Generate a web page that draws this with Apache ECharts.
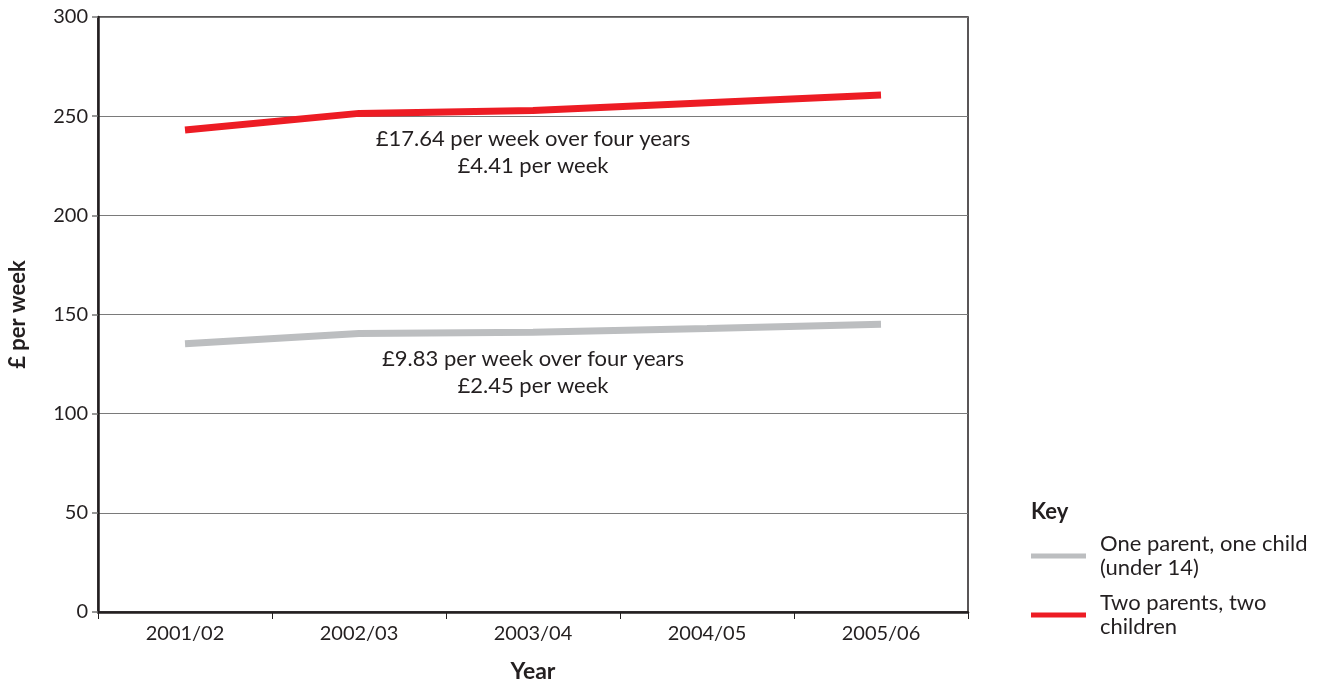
<!DOCTYPE html>
<html>
<head>
<meta charset="utf-8">
<script src="https://cdn.jsdelivr.net/npm/echarts@6/dist/echarts.min.js"></script>
<style>
html,body{margin:0;padding:0;background:#fff;}
#chart{width:1326px;height:684px;}
</style>
</head>
<body>
<div id="chart"></div>
<script>
const categories = ['2001/02', '2002/03', '2003/04', '2004/05', '2005/06'];
const oneParentValues = [135.3, 140.4, 141.0, 143.0, 145.1];
const twoParentValues = [243.0, 251.4, 252.9, 256.8, 260.7];
const seriesNames = ['One parent, one child', 'Two parents, two children'];
const legendLabels = ['One parent, one child\n(under 14)', 'Two parents, two\nchildren'];
const annotationTwo = ['£17.64 per week over four years', '£4.41 per week'];
const annotationOne = ['£9.83 per week over four years', '£2.45 per week'];
const yTicks = [0, 50, 100, 150, 200, 250, 300];

const FONT = 'Lato, "Open Sans", sans-serif';
const TXT = '#231f20';
const chart = echarts.init(document.getElementById('chart'), null, {renderer: 'canvas'});

function legendFor(i, top) {
  return {
    data: [seriesNames[i]],
    left: 1031,
    top: top,
    orient: 'vertical',
    icon: 'rect',
    itemWidth: 55,
    itemHeight: 5,
    itemGap: 0,
    padding: 0,
    selectedMode: false,
    formatter: () => legendLabels[i],
    textStyle: {
      fontFamily: FONT, fontSize: 22, color: TXT, lineHeight: 24,
      padding: [24, 0, 0, 9]
    }
  };
}

chart.setOption({
  animation: false,
  textStyle: {fontFamily: FONT},
  title: {
    text: 'Key', left: 1031, top: 501,
    textStyle: {fontFamily: FONT, fontSize: 22, fontWeight: 'bold', color: TXT},
    padding: 0
  },
  legend: [legendFor(0, 520), legendFor(1, 579)],
  grid: {
    left: 98, top: 17, right: 358, bottom: 72,
    outerBoundsMode: 'none',
    containLabel: false,
    show: true, borderColor: '#231f20', borderWidth: 1.5, backgroundColor: 'transparent'
  },
  xAxis: {
    type: 'category',
    data: categories,
    boundaryGap: true,
    name: 'Year',
    nameLocation: 'middle',
    nameGap: 48,
    nameTextStyle: {fontFamily: FONT, fontSize: 23, fontWeight: 'bold', color: TXT},
    axisLine: {show: true, lineStyle: {color: TXT, width: 2.5}},
    axisTick: {show: true, length: 7, lineStyle: {color: TXT, width: 1}, interval: 0},
    axisLabel: {fontFamily: FONT, fontSize: 20, color: TXT, margin: 12, interval: 0},
    splitLine: {show: false}
  },
  yAxis: {
    type: 'value',
    min: 0, max: 300, interval: 50,
    name: '£ per week',
    nameLocation: 'middle',
    nameRotate: 90,
    nameGap: 69,
    nameTextStyle: {fontFamily: FONT, fontSize: 22, fontWeight: 'bold', color: TXT},
    axisLine: {show: true, lineStyle: {color: TXT, width: 2.5}},
    axisTick: {show: true, length: 6, lineStyle: {color: '#777', width: 1.5}},
    axisLabel: {fontFamily: FONT, fontSize: 20, color: TXT, margin: 10,
      formatter: v => yTicks.includes(v) ? String(v) : ''},
    splitLine: {show: true, lineStyle: {color: '#7a7a7a', width: 1}}
  },
  series: [
    {
      name: seriesNames[0],
      type: 'line',
      data: oneParentValues,
      symbol: 'none',
      color: '#bcbec0',
      lineStyle: {color: '#bcbec0', width: 7},
      markPoint: {
        symbol: 'circle', symbolSize: 0,
        data: [{coord: ['2003/04', oneParentValues[2]]}],
        label: {
          show: true, position: 'inside', offset: [0, 40],
          formatter: annotationOne.join('\n'),
          fontFamily: FONT, fontSize: 22, lineHeight: 27, color: TXT, align: 'center'
        }
      }
    },
    {
      name: seriesNames[1],
      type: 'line',
      data: twoParentValues,
      symbol: 'none',
      color: '#ed1c24',
      lineStyle: {color: '#ed1c24', width: 7},
      markPoint: {
        symbol: 'circle', symbolSize: 0,
        data: [{coord: ['2003/04', twoParentValues[2]]}],
        label: {
          show: true, position: 'inside', offset: [0, 42],
          formatter: annotationTwo.join('\n'),
          fontFamily: FONT, fontSize: 22, lineHeight: 27, color: TXT, align: 'center'
        }
      }
    }
  ]
});
</script>
</body>
</html>
